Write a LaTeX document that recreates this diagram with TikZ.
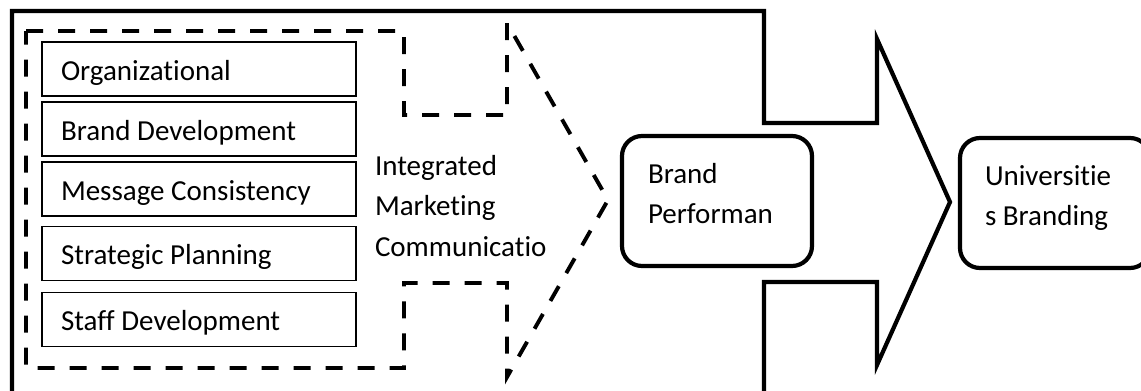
\documentclass[tikz,border=0pt]{standalone}
\usepackage{fontspec}
\setmainfont{Carlito}[Ligatures={NoCommon,NoContextual,NoRare},Contextuals=NoAlternate]
\usetikzlibrary{calc}
\begin{document}
\begin{tikzpicture}[x=1pt,y=-1pt,
  lbl/.style={inner sep=0pt, outer sep=0pt, anchor=base west,
    font=\fontsize{29}{35}\selectfont, text=black},
  itembox/.style={draw=black, line width=1.4pt, minimum width=314pt,
    minimum height=54pt, inner sep=0pt, outer sep=0pt},
  roundbox/.style={draw=black, line width=4.2pt, rounded corners=20pt,
    minimum width=190pt, minimum height=130pt, inner sep=0pt, outer sep=0pt},
  bigarrow/.style={draw=black, line width=4.2pt, line join=miter},
  dasharrow/.style={draw=black, line width=3.9pt, line join=miter,
    dash pattern=on 17pt off 15pt}]
\clip (0,0) rectangle (1141,391);
\fill[white] (0,0) rectangle (1141,391);

% outer solid arrow: wide body with a right-pointing head
\draw[bigarrow] (12,400) -- (12,11) -- (764,11) -- (764,123) -- (877,123)
  -- (877,39) -- (950,202) -- (877,365) -- (877,282) -- (764,282) -- (764,400);

% inner dashed arrow around the IMC dimensions
\draw[dasharrow] (26,31) -- (404,31) -- (404,115) -- (507,115) -- (507,23)
  -- (608,200) -- (507,377) -- (507,283) -- (404,283) -- (404,368)
  -- (26,368) -- cycle;

% IMC dimensions
\node[itembox] (b1) at (199,69) {};
\node[itembox] (b2) at (199,129) {};
\node[itembox] (b3) at (199,189) {};
\node[itembox] (b4) at (199,253.5) {};
\node[itembox] (b5) at (199,319.5) {};
\node[lbl] (t1) at ($(b1.north west)+(19,38)$) {Organizational};
\node[lbl] (t2) at ($(b2.north west)+(19,38)$) {Brand Development};
\node[lbl] (t3) at ($(b3.north west)+(19,38)$) {Message Consistency};
\node[lbl] (t4) at ($(b4.north west)+(19,38)$) {Strategic Planning};
\node[lbl] (t5) at ($(b5.north west)+(19,38)$) {Staff Development};

% label of the dashed arrow
\node[lbl] (imc1) at (375,175) {Integrated};
\node[lbl] (imc2) at ($(imc1.base west)+(0,40.5)$) {Marketing};
\node[lbl] (imc3) at ($(imc2.base west)+(0,40.5)$) {Communicatio};

% outcome boxes
\node[roundbox] (bp) at (717,201) {};
\node[lbl] (bp1) at ($(bp.north west)+(26,47.5)$) {Brand};
\node[lbl] (bp2) at ($(bp1.base west)+(0,40)$) {Performan};

\node[roundbox] (ub) at (1055,203) {};
\node[lbl] (ub1) at ($(ub.north west)+(25,47.5)$) {Universitie};
\node[lbl] (ub2) at ($(ub1.base west)+(0,40)$) {s Branding};
\end{tikzpicture}
\end{document}
